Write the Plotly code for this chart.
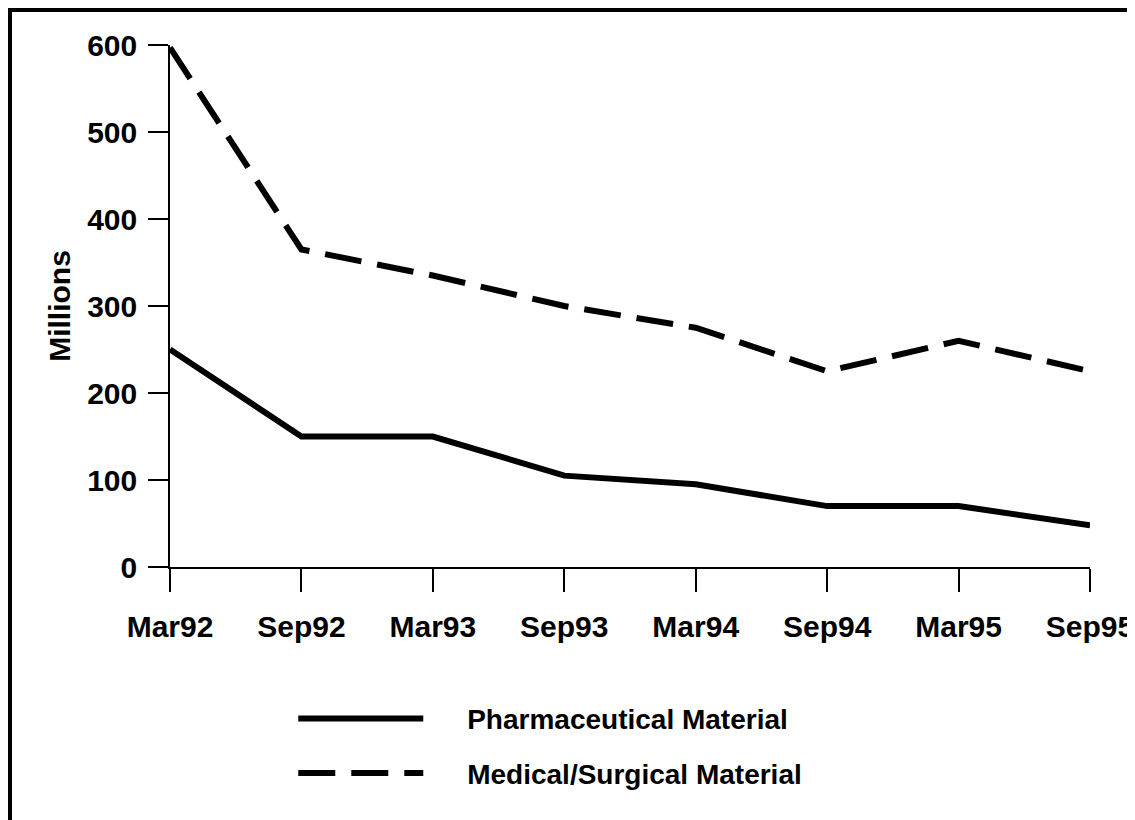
import plotly.graph_objects as go

periods = ["Mar92", "Sep92", "Mar93", "Sep93", "Mar94", "Sep94", "Mar95", "Sep95"]
pharmaceutical = [250, 150, 150, 105, 95, 70, 70, 48]
medical_surgical = [597, 365, 335, 300, 275, 225, 260, 225]
y_ticks = [0, 100, 200, 300, 400, 500, 600]
series_names = ["Pharmaceutical Material", "Medical/Surgical Material"]

FONT = "Liberation Sans, Arial, sans-serif"
PAD = "\u00a0" * 5

fig = go.Figure()
fig.add_trace(go.Scatter(
    x=periods, y=pharmaceutical, mode="lines", name=PAD + series_names[0],
    line=dict(color="black", width=6), legendgroup="a"))
fig.add_trace(go.Scatter(
    x=periods, y=medical_surgical, mode="lines", name=PAD + series_names[1],
    line=dict(color="black", width=6, dash="37px,16px"), legendgroup="b"))

fig.update_layout(
    width=1127, height=812,
    margin=dict(l=162, r=45, t=37, b=253, autoexpand=False),
    paper_bgcolor="white", plot_bgcolor="white",
    font=dict(family=FONT, size=24, color="black"),
    showlegend=True,
    legend=dict(
        x=0.134, y=-0.243, xanchor="left", yanchor="top",
        itemwidth=125, tracegroupgap=15,
        font=dict(family=FONT, size=28, color="black", weight="bold"),
        bgcolor="rgba(0,0,0,0)",
    ),
    xaxis=dict(
        type="category", categoryorder="array", categoryarray=periods,
        range=[0, len(periods) - 1], automargin=False,
        showgrid=False, zeroline=False,
        showline=True, linecolor="black", linewidth=2,
        ticks="outside", ticklen=23, tickwidth=1.5, tickcolor="black",
        ticklabelstandoff=9,
        tickfont=dict(family=FONT, size=30, color="black", weight="bold"),
    ),
    yaxis=dict(
        range=[0, 600], tickvals=y_ticks, automargin=False,
        showgrid=False, zeroline=False,
        showline=True, linecolor="black", linewidth=1.5,
        ticks="outside", ticklen=20, tickwidth=1.5, tickcolor="black",
        ticklabelstandoff=5,
        tickfont=dict(family=FONT, size=30, color="black", weight="bold"),
        title=dict(text="Millions", standoff=8,
                   font=dict(family=FONT, size=30, color="black", weight="bold")),
    ),
    shapes=[dict(
        type="rect", xref="paper", yref="paper",
        x0=-0.1739, x1=1.2, y0=-0.7, y1=1.067,
        line=dict(color="black", width=4), fillcolor="rgba(0,0,0,0)", layer="below",
    )],
)

fig.write_html("out.html")
